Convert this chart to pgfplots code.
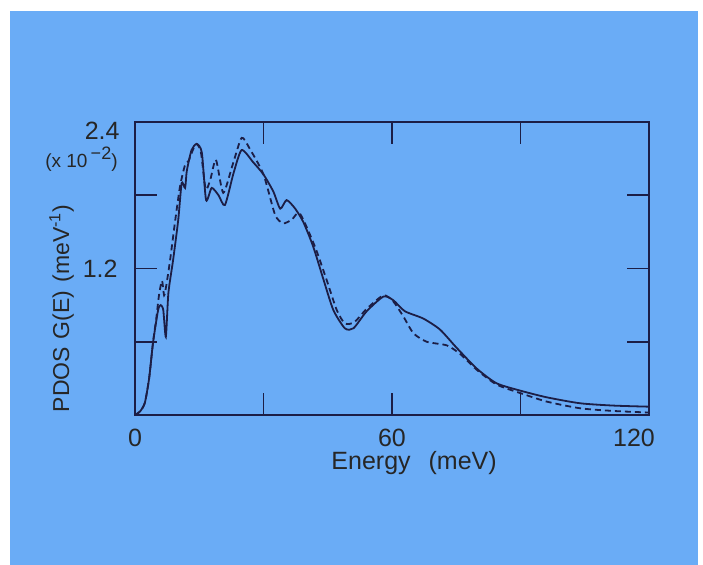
\documentclass[border=0pt]{standalone}
\usepackage{fontspec}
\setmainfont{Liberation Sans}
\usepackage{pgfplots}
\pgfplotsset{compat=1.18}

\definecolor{panel}{RGB}{106,172,246}
\definecolor{ink}{RGB}{28,30,70}

\pgfplotstableread{
E G
0 0
1.2 0.03
2.3 0.10
3.3 0.30
4.2 0.59
5.4 0.86
6.0 0.90
6.6 0.86
7.2 0.64
7.8 1.00
8.9 1.27
10.1 1.60
10.9 1.90
11.7 1.86
12.1 2.00
13.2 2.17
14.4 2.22
15.6 2.15
16.6 1.76
17.9 1.86
19.5 1.80
21.0 1.72
23.0 1.98
24.9 2.17
27.6 2.07
30.0 1.97
32.3 1.83
33.9 1.69
35.4 1.76
37.4 1.69
39.3 1.58
41.6 1.38
44.0 1.11
46.3 0.86
49.0 0.71
51.0 0.71
54.1 0.85
58.0 0.97
60.3 0.94
63.0 0.85
67.3 0.79
71.2 0.70
75.1 0.55
79.8 0.38
84.4 0.26
89.9 0.20
96.1 0.145
103.9 0.096
111.7 0.077
120 0.068
}\solid

\pgfplotstableread{
E G
0 0
1.2 0.03
2.3 0.10
3.3 0.30
4.2 0.59
5.0 0.80
5.6 0.98
6.3 1.10
6.8 0.98
7.3 1.06
8.2 1.27
9.3 1.57
10.5 1.87
11.7 2.05
12.5 2.08
13.5 2.17
14.4 2.22
15.4 2.15
16.5 1.85
17.6 1.93
18.9 2.09
20.6 1.82
22.8 2.05
24.9 2.27
26.8 2.18
30.0 1.97
32.7 1.64
34.6 1.57
36.6 1.60
38.5 1.65
42.0 1.38
44.7 1.11
47.1 0.86
49.0 0.75
51.2 0.76
54.1 0.87
58.0 0.98
60.3 0.93
62.6 0.81
65.0 0.67
68.1 0.60
72.8 0.57
75.9 0.50
79.8 0.37
84.4 0.25
89.9 0.18
96.1 0.11
103.9 0.055
111.7 0.033
120 0.02
}\dashed

\begin{document}
\begin{tikzpicture}
% page: 1px = 0.5pt, axis lower left at px (135,415)
\fill[white] (-67.5pt,-75pt) rectangle (284pt,207.5pt);
\fill[panel] (-62.5pt,-75pt) rectangle (281.5pt,202pt);
\useasboundingbox (-67.5pt,-75pt) rectangle (284pt,207.5pt);
\begin{axis}[
    at={(0pt,0pt)}, anchor=south west,
    width=257pt, height=146.5pt,
    scale only axis,
    xmin=0, xmax=120,
    ymin=0, ymax=2.4,
    xtick={0,30,60,90,120},
    xticklabels={0,,60,,\makebox[0pt][c]{\kern-15pt 120}},
    ytick={0,0.6,1.2,1.8,2.4},
    yticklabels={,,1.2,,},
    tick align=inside,
    major tick length=11pt,
    axis line style={ink, line width=0.8pt},
    tick style={ink, line width=0.8pt},
    font=\fontsize{12.5}{14}\selectfont,
    /pgf/number format/assume math mode=true,
    xticklabel style={anchor=base, inner sep=0pt, yshift=-16pt, text=black!85},
    yticklabel style={anchor=base east, inner sep=0pt, xshift=-8.5pt, yshift=-4.75pt, text=black!85},
    xlabel={Energy\hspace{9pt}(meV)},
    xlabel style={at={(rel axis cs:0.543,0)}, anchor=base, inner sep=0pt, yshift=-27.5pt, text=black!85},
    ylabel={PDOS\hspace{4pt}G(E)\hspace{4pt}(meV\textsuperscript{-1})},
    ylabel style={at={(rel axis cs:-0.143,0.3635)}, anchor=center, rotate=0, inner sep=0pt,
        font=\fontsize{11.5}{14}\selectfont, text=black!85},
    clip=false,
]
\addplot[ink, line width=0.9pt, smooth, tension=0.4] table[x=E, y=G] {\solid};
\addplot[ink, line width=0.9pt, dash pattern=on 3pt off 2pt, smooth, tension=0.4] table[x=E, y=G] {\dashed};
\node[anchor=base east, inner sep=0pt, text=black!85] at ([xshift=-7.5pt]rel axis cs:0,0.9386) {2.4};
\node[anchor=base east, inner sep=0pt, text=black!85, font=\fontsize{9.5}{10}\selectfont]
    at ([xshift=-8.5pt]rel axis cs:0,0.846) {(x 10\,\raisebox{4pt}{\fontsize{9}{9}\selectfont −2})};
\end{axis}
\end{tikzpicture}
\end{document}
